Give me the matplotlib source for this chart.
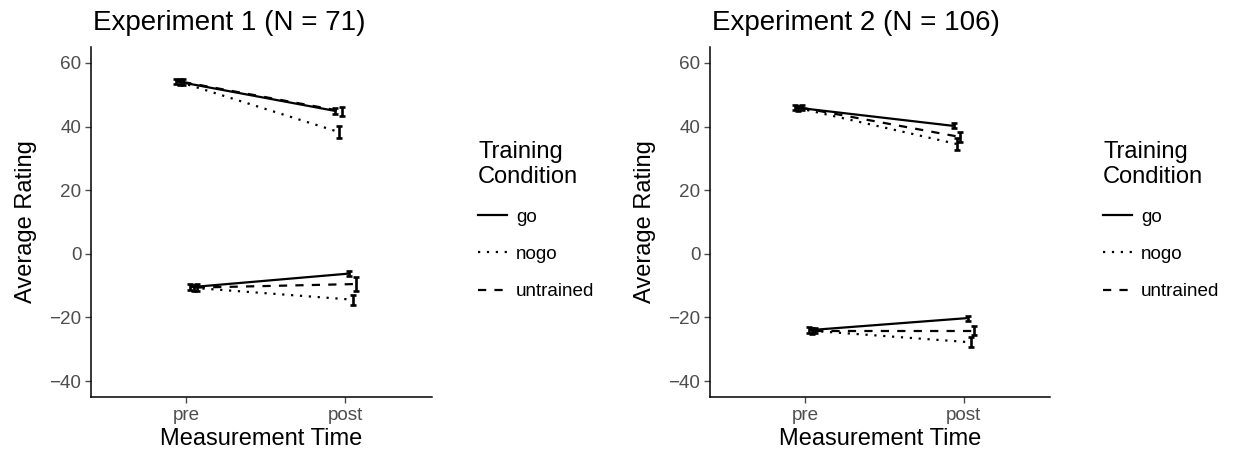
import matplotlib
matplotlib.use("Agg")
import matplotlib.pyplot as plt
from matplotlib.lines import Line2D

plt.rcParams['font.family'] = ['Liberation Sans', 'DejaVu Sans']

times = ["pre", "post"]
conditions = ["go", "nogo", "untrained"]
titles = ["Experiment 1 (N = 71)", "Experiment 2 (N = 106)"]
yticks = [-40, -20, 0, 20, 40, 60]

# Experiment 1 means / errors: [condition][time]
exp1_pos_mean = [[54.2, 44.9], [54.0, 38.3], [54.0, 44.8]]
exp1_pos_err = [[0.9, 0.8], [0.9, 2.0], [0.9, 1.5]]
exp1_neg_mean = [[-10.5, -6.2], [-10.7, -14.4], [-10.6, -9.5]]
exp1_neg_err = [[1.0, 0.9], [1.0, 1.6], [1.0, 2.2]]

# Experiment 2
exp2_pos_mean = [[46.0, 40.2], [45.8, 34.5], [45.9, 36.7]]
exp2_pos_err = [[0.8, 0.8], [0.8, 1.9], [0.8, 1.6]]
exp2_neg_mean = [[-24.0, -20.2], [-24.2, -27.8], [-24.1, -24.1]]
exp2_neg_err = [[0.9, 0.8], [0.9, 1.6], [0.9, 1.4]]

experiments = [
    (exp1_pos_mean, exp1_pos_err, exp1_neg_mean, exp1_neg_err),
    (exp2_pos_mean, exp2_pos_err, exp2_neg_mean, exp2_neg_err),
]

styles = {
    "go": "-",
    "nogo": (0, (1, 3.0)),
    "untrained": (0, (3.7, 3.7)),
}
pos_offsets = [-0.063, -0.042, -0.02]
neg_offsets = [0.025, 0.045, 0.065]

W, H = 1238, 461
fig = plt.figure(figsize=(W / 100, H / 100), dpi=100)

panels = [(91, 432, 478), (710, 1050, 1103)]
top, bottom = 47, 397
grey = "#4D4D4D"
lw = 1.6

for pi, (exp, (l, r, legx)) in enumerate(zip(experiments, panels)):
    ax = fig.add_axes([l / W, 1 - bottom / H, (r - l) / W, (bottom - top) / H])
    pm, pe, nm, ne = exp
    for groups, errs, offs in ((pm, pe, pos_offsets), (nm, ne, neg_offsets)):
        for ci, cond in enumerate(conditions):
            xs = [1 + offs[ci], 2 + offs[ci]]
            ax.plot(xs, groups[ci], color="black", lw=lw, linestyle=styles[cond],
                    dash_capstyle="butt", solid_capstyle="butt")
            ax.errorbar(xs, groups[ci], yerr=errs[ci], fmt="none", ecolor="black",
                        elinewidth=lw + 0.3, capsize=2.2, capthick=lw + 0.3)
    ax.set_xlim(0.4, 2.545)
    ax.set_ylim(-45, 65)
    ax.set_xticks([1, 2])
    ax.set_xticklabels(times)
    ax.set_yticks(yticks)
    ax.set_yticklabels([str(t).replace("-", "\u2212") for t in yticks])
    for s in ("top", "right"):
        ax.spines[s].set_visible(False)
    for s in ("left", "bottom"):
        ax.spines[s].set_linewidth(1.1)
        ax.spines[s].set_color("black")
    ax.tick_params(axis="both", colors=grey, labelsize=13.6, length=4, width=1.0,
                   labelcolor=grey, pad=3)
    ax.set_xlabel("Measurement Time", fontsize=17, color="black", labelpad=3)
    ax.set_ylabel("Average Rating", fontsize=17, color="black", labelpad=9)
    ax.set_title(titles[pi], fontsize=20, loc="left", pad=12, x=0.005)

    handles = [Line2D([0], [0], color="black", lw=lw, linestyle=styles[c]) for c in conditions]
    leg = ax.legend(handles, conditions, title="Training\nCondition",
                    loc="upper left",
                    bbox_to_anchor=((legx - l) / (r - l), (bottom - 141) / (bottom - top)),
                    frameon=False, fontsize=13.6, title_fontsize=17, handlelength=1.55,
                    handletextpad=0.45, labelspacing=1.06, alignment="left",
                    borderaxespad=0, borderpad=0)

fig.savefig("out.png", dpi=100)
